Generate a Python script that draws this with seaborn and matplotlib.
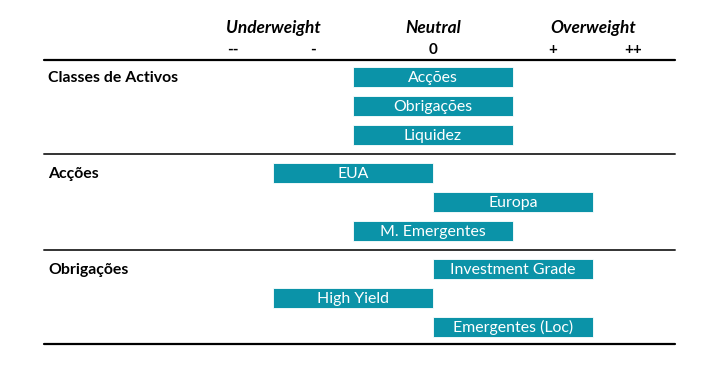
import numpy as np
import pandas as pd
import seaborn as sns
import matplotlib.pyplot as plt

# asset allocation view: position of each bar on the -- .. ++ scale
groups = ["Classes de Activos", "Acções", "Obrigações"]
labels = [["Acções", "Obrigações", "Liquidez"],
          ["EUA", "Europa", "M. Emergentes"],
          ["Investment Grade", "High Yield", "Emergentes (Loc)"]]
views = [[0, 0, 0],
         [-1, 1, 0],
         [1, -1, 1]]
headers = ["Underweight", "Neutral", "Overweight"]
header_pos = [-2, 0, 2]
scale_labels = ["--", "-", "0", "+", "++"]
scale_pos = [-2.5, -1.5, 0, 1.5, 2.5]

sns.set_theme(style="white")
plt.rcParams['font.family'] = ['Lato', 'DejaVu Sans']
plt.rcParams['text.color'] = 'black'

bar_color = "#0b93a8"
gap = 0.31

rows = []
for g, grp in enumerate(groups):
    for r, lab in enumerate(labels[g]):
        rows.append({"group": grp, "label": lab, "view": views[g][r],
                     "y": g * (3 + gap) + r, "first": r == 0})
df = pd.DataFrame(rows)

fig = plt.figure(figsize=(7.22, 3.78), dpi=100)
ax = fig.add_axes([0, 0, 1, 1])
ax.set_xlim(-433 / 80, (722 - 433) / 80)
ax.set_ylim((378 - 77) / 29, -77 / 29)
ax.axis("off")

ax.barh(df["y"], width=2, left=df["view"] - 1, height=0.7, color=bar_color,
        edgecolor="white", linewidth=0.6)
for _, row in df.iterrows():
    ax.text(row["view"], row["y"] + 0.02, row["label"], color="white", ha="center",
            va="center", fontsize=11.4)
    if row["first"]:
        ax.text(-4.81, row["y"] + 0.03, row["group"], ha="left",
                va="center", fontsize=11.4, fontweight="bold")

for h, x in zip(headers, header_pos):
    ax.text(x, -1.69, h, ha="center", va="center", fontsize=12.4,
            fontweight="bold", fontstyle="italic")
for s, x in zip(scale_labels, scale_pos):
    ax.text(x, -0.93, s, ha="center", va="center", fontsize=11, fontweight="bold")

x0, x1 = -4.86, 3.02
ax.plot([x0, x1], [-0.59, -0.59], color="black", lw=1.6)
for g in range(1, len(groups)):
    yy = g * (3 + gap) - 0.5 - gap / 2
    ax.plot([x0, x1], [yy, yy], color="#333333", lw=1.4)
ax.plot([x0, x1], [df["y"].max() + 0.59] * 2, color="black", lw=1.6)

fig.savefig("out.png", dpi=100)
